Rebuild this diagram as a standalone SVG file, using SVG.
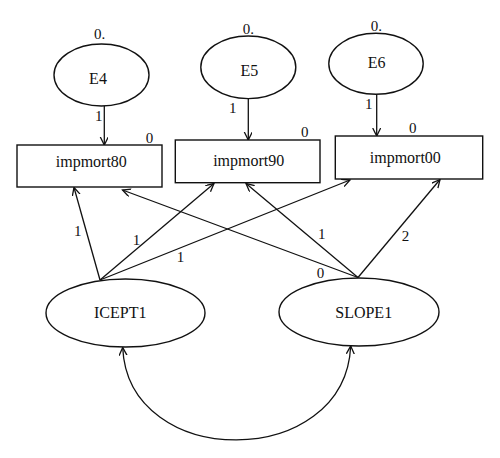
<svg xmlns="http://www.w3.org/2000/svg" width="500" height="458" viewBox="0 0 500 458">
<style>
.shape{fill:#fff;stroke:#111;stroke-width:1.4}
.conn{fill:none;stroke:#111;stroke-width:1.3}
.name{font-family:"Liberation Serif",serif;font-size:16px;fill:#111;text-anchor:middle}
.lbl{font-family:"Liberation Serif",serif;font-size:15px;fill:#111}
</style>
<defs>
<marker id="arr" markerUnits="userSpaceOnUse" markerWidth="12" markerHeight="12" refX="8" refY="4" orient="auto-start-reverse" viewBox="0 0 12 12">
<path d="M0,0 L8,4 L0,8" fill="none" stroke="#111" stroke-width="1.3"/>
</marker>
</defs>
<rect width="500" height="458" fill="#fff"/>
<g id="connectors">
<line class="conn" x1="104.3" y1="106" x2="104.3" y2="145" marker-end="url(#arr)"/>
<line class="conn" x1="248.3" y1="98.5" x2="248.3" y2="140" marker-end="url(#arr)"/>
<line class="conn" x1="376.7" y1="94.5" x2="376.7" y2="136" marker-end="url(#arr)"/>
<line class="conn" x1="100" y1="280" x2="74" y2="187.5" marker-end="url(#arr)"/>
<line class="conn" x1="100" y1="280" x2="214" y2="183.5" marker-end="url(#arr)"/>
<line class="conn" x1="100" y1="280" x2="350" y2="180" marker-end="url(#arr)"/>
<line class="conn" x1="358" y1="277.5" x2="122.5" y2="190" marker-end="url(#arr)"/>
<line class="conn" x1="358" y1="277.5" x2="246" y2="183.5" marker-end="url(#arr)"/>
<line class="conn" x1="358" y1="277.5" x2="440" y2="179.5" marker-end="url(#arr)"/>
<path class="conn" d="M122.7,347.5 C128,471 345,471 350.7,346" marker-start="url(#arr)" marker-end="url(#arr)"/>
</g>
<g id="E4">
<ellipse class="shape" cx="101.5" cy="75" rx="47.5" ry="31"/>
<text class="name" x="98" y="84">E4</text>
<text class="lbl" x="94" y="39">0.</text>
<text class="lbl" x="95" y="120.5">1</text>
</g>
<g id="E5">
<ellipse class="shape" cx="248.3" cy="67.3" rx="47.5" ry="31.3"/>
<text class="name" x="249.3" y="76">E5</text>
<text class="lbl" x="242.7" y="34">0.</text>
<text class="lbl" x="229" y="113">1</text>
</g>
<g id="E6">
<ellipse class="shape" cx="376" cy="63.8" rx="47.2" ry="30.5"/>
<text class="name" x="376.7" y="68">E6</text>
<text class="lbl" x="370.7" y="31">0.</text>
<text class="lbl" x="365" y="109">1</text>
</g>
<g id="impmort80">
<rect class="shape" x="17" y="145" width="145" height="42"/>
<text class="name" x="91.3" y="167">impmort80</text>
<text class="lbl" x="145.7" y="143">0</text>
</g>
<g id="impmort90">
<rect class="shape" x="175.3" y="140" width="144.7" height="42.7"/>
<text class="name" x="248.7" y="166">impmort90</text>
<text class="lbl" x="301" y="137">0</text>
</g>
<g id="impmort00">
<rect class="shape" x="335.3" y="136" width="147.4" height="43"/>
<text class="name" x="405.3" y="163">impmort00</text>
<text class="lbl" x="409" y="133">0</text>
</g>
<g id="ICEPT1">
<ellipse class="shape" cx="125.5" cy="313" rx="79.5" ry="34"/>
<text class="name" x="120.2" y="318">ICEPT1</text>
</g>
<g id="SLOPE1">
<ellipse class="shape" cx="359" cy="312" rx="80" ry="34"/>
<text class="name" x="363.7" y="317.7">SLOPE1</text>
</g>
<g id="edge-labels">
<text class="lbl" x="74" y="236">1</text>
<text class="lbl" x="132.7" y="245">1</text>
<text class="lbl" x="176.7" y="262">1</text>
<text class="lbl" x="316.7" y="278">0</text>
<text class="lbl" x="318" y="239">1</text>
<text class="lbl" x="401.7" y="240.7">2</text>
</g>
</svg>
